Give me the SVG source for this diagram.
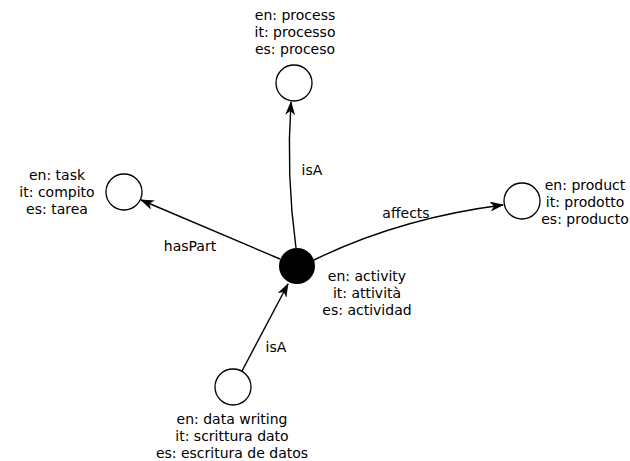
<svg xmlns="http://www.w3.org/2000/svg" width="630" height="461" viewBox="0 0 630 461">
<style>
text{font-family:"DejaVu Sans",sans-serif;font-size:14px;fill:#000;text-anchor:middle}
.n{fill:#fff;stroke:#000;stroke-width:1.3}
.e{fill:none;stroke:#000;stroke-width:1.4}
</style>
<defs>
<marker id="a" viewBox="0 0 14 10" refX="13" refY="5" markerWidth="14" markerHeight="10" markerUnits="userSpaceOnUse" orient="auto">
<path d="M0,0 L14,5 L0,10 L4,5 Z" fill="#000"/>
</marker>
</defs>
<rect width="630" height="461" fill="#fff"/>
<g id="connectors">
<path class="e" d="M296,248 Q286,175 291,102" marker-end="url(#a)"/>
<text x="312" y="175">isA</text>
<path class="e" d="M280,259 L141,200" marker-end="url(#a)"/>
<text x="190" y="251">hasPart</text>
<path class="e" d="M314,260 Q400,218 503,205" marker-end="url(#a)"/>
<text x="406" y="218">affects</text>
<path class="e" d="M242,371 L288,284" marker-end="url(#a)"/>
<text x="276" y="352">isA</text>
</g>
<g id="activity">
<circle cx="297" cy="266" r="18" fill="#000"/>
<text x="367" y="281">en: activity</text>
<text x="367" y="298">it: attività</text>
<text x="367" y="315">es: actividad</text>
</g>
<g id="process">
<circle class="n" cx="294" cy="83" r="18"/>
<text x="295" y="20">en: process</text>
<text x="295" y="37">it: processo</text>
<text x="295" y="54">es: proceso</text>
</g>
<g id="task">
<circle class="n" cx="124" cy="192" r="18"/>
<text x="57" y="180">en: task</text>
<text x="57" y="197">it: compito</text>
<text x="57" y="214">es: tarea</text>
</g>
<g id="product">
<circle class="n" cx="522" cy="201" r="18"/>
<text x="585" y="190">en: product</text>
<text x="585" y="207">it: prodotto</text>
<text x="585" y="224">es: producto</text>
</g>
<g id="datawriting">
<circle class="n" cx="233" cy="387" r="18"/>
<text x="232" y="424">en: data writing</text>
<text x="232" y="441">it: scrittura dato</text>
<text x="232" y="458">es: escritura de datos</text>
</g>
</svg>
